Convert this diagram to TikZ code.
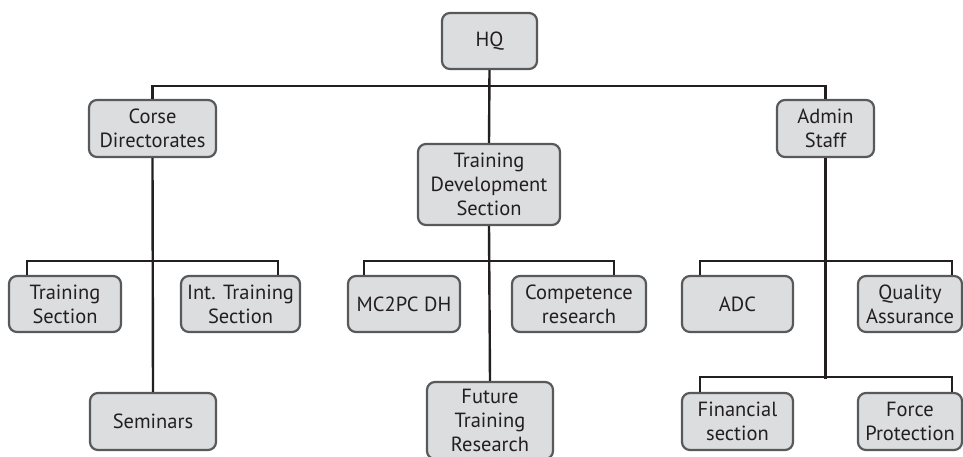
\documentclass[tikz,border=0pt]{standalone}
\usepackage{fontspec}
\setmainfont{PT Sans}
\usepackage{tikz}
\usepackage{xcolor}

\definecolor{boxfill}{HTML}{DCDDDF}
\definecolor{boxline}{HTML}{58595B}
\definecolor{inkline}{HTML}{231F20}

\tikzset{
  unit/.style={draw=boxline, line width=2.2pt, fill=boxfill, rounded corners=8pt,
    align=center, inner sep=0pt, text=inkline,
    font=\fontsize{20.5}{24}\selectfont},
  link/.style={draw=inkline, line width=2.4pt}
}

\begin{document}
\begin{tikzpicture}[x=1pt, y=-1pt]
\useasboundingbox (0,0) rectangle (963,457);

% Top level
\node[unit, minimum width=95pt, minimum height=56pt] (hq) at (489.5,41) {HQ};

% Second level
\node[unit, minimum width=127pt, minimum height=57pt] (corse) at (152.5,128.5) {Corse\\Directorates};
\node[unit, minimum width=142pt, minimum height=81pt] (tds) at (489,184.5) {Training\\Development\\Section};
\node[unit, minimum width=97pt, minimum height=57pt] (admin) at (825.5,128.5) {Admin\\Staff};

% Corse Directorates branch
\node[unit, minimum width=112pt, minimum height=56pt] (trsec) at (65,304) {Training\\Section};
\node[unit, minimum width=119pt, minimum height=56pt] (inttr) at (240.5,304) {Int. Training\\Section};
\node[unit, minimum width=126pt, minimum height=57pt] (sem) at (153,421.5) {Seminars};

% Training Development branch
\node[unit, minimum width=112pt, minimum height=56pt] (mcpc) at (404,304) {MC2PC DH};
\node[unit, minimum width=134pt, minimum height=56pt] (comp) at (579,304) {Competence\\research};
\node[unit, minimum width=126pt, minimum height=77pt] (future) at (490,420.5) {Future\\Training\\Research};

% Admin Staff branch
\node[unit, minimum width=111pt, minimum height=56pt] (adc) at (737.5,304) {ADC};
\node[unit, minimum width=104pt, minimum height=56pt] (qa) at (910,304) {Quality\\Assurance};
\node[unit, minimum width=111pt, minimum height=57pt] (fin) at (737.5,421.5) {Financial\\section};
\node[unit, minimum width=104pt, minimum height=57pt] (force) at (910,421.5) {Force\\Protection};

% Connectors from HQ
\draw[link] (hq.south) -- (tds.north);
\draw[link] (corse.north) -- ++(0,-13) -| (admin.north);

% Connectors below Corse Directorates
\draw[link] (corse.south) -- (sem.north);
\draw[link] ([xshift=19pt]trsec.north west) -- ++(0,-14) -| ([xshift=-23pt]inttr.north east);

% Connectors below Training Development Section
\draw[link] (tds.south) -- (future.north);
\draw[link] ([xshift=17pt]mcpc.north west) -- ++(0,-14) -| ([xshift=-33pt]comp.north east);

% Connectors below Admin Staff
\draw[link] (admin.south) -- ++(0,221);
\draw[link] ([xshift=19pt]adc.north west) -- ++(0,-14) -| ([xshift=-11pt]qa.north east);
\draw[link] ([xshift=19pt]fin.north west) -- ++(0,-15) -| ([xshift=-11pt]force.north east);
\end{tikzpicture}
\end{document}
